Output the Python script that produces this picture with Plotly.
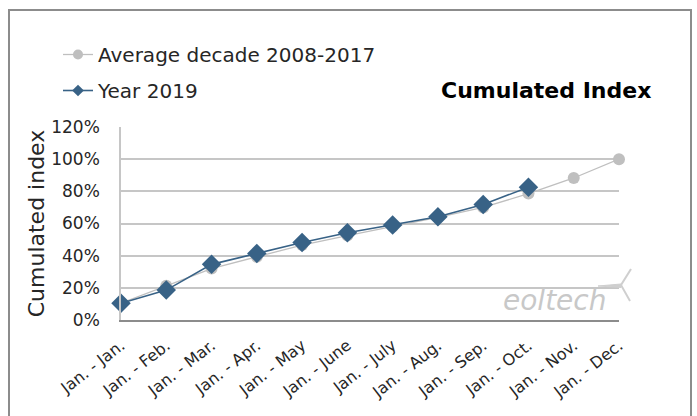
import plotly.graph_objects as go

categories = ["Jan. - Jan.", "Jan. - Feb.", "Jan. - Mar.", "Jan. - Apr.", "Jan. - May", "Jan. - June",
              "Jan. - July", "Jan. - Aug.", "Jan. - Sep.", "Jan. - Oct.", "Jan. - Nov.", "Jan. - Dec."]
avg_decade = [0.105, 0.213, 0.32, 0.393, 0.466, 0.525, 0.58, 0.638, 0.70, 0.786, 0.883, 1.0]
year_2019 = [0.104, 0.186, 0.346, 0.414, 0.482, 0.542, 0.59, 0.642, 0.718, 0.826]
y_ticks = [0, 0.2, 0.4, 0.6, 0.8, 1.0, 1.2]
y_tick_labels = ["0%", "20%", "40%", "60%", "80%", "100%", "120%"]

FONT = "DejaVu Sans"
BLUE = "#386286"
GREY = "#bfbfbf"
TEXT = "#262626"

# plot-area geometry (pixels) used for decoration placement
L, R, T, B = 121, 619, 127, 320
W, H = 697, 416


def px(x):
    return (x - L) / (R - L)


def py(y):
    return (B - y) / (B - T)


fig = go.Figure()
fig.add_trace(go.Scatter(
    x=categories, y=avg_decade, name="Average decade 2008-2017",
    mode="lines+markers", line=dict(color=GREY, width=1.3),
    marker=dict(symbol="circle", size=12, color=GREY),
    cliponaxis=False, showlegend=False))
fig.add_trace(go.Scatter(
    x=categories[:len(year_2019)], y=year_2019, name="Year 2019",
    mode="lines+markers", line=dict(color=BLUE, width=1.6),
    marker=dict(symbol="diamond", size=15, color=BLUE),
    cliponaxis=False, showlegend=False))
# legend entries (smaller symbols, as in the reference legend)
fig.add_trace(go.Scatter(
    x=[None], y=[None], name="Average decade 2008-2017",
    mode="lines+markers", line=dict(color=GREY, width=1.3),
    marker=dict(symbol="circle", size=10, color=GREY), legendgroup="a"))
fig.add_trace(go.Scatter(
    x=[None], y=[None], name="Year 2019",
    mode="lines+markers", line=dict(color=BLUE, width=1.6),
    marker=dict(symbol="diamond", size=9, color=BLUE), legendgroup="b"))

shapes = [
    # outer frame
    dict(type="rect", xref="paper", yref="paper",
         x0=px(9), x1=px(691), y0=py(440), y1=py(10),
         line=dict(color="#8c8c8c", width=2), fillcolor="rgba(0,0,0,0)", layer="below"),
    # eoltech turbine
    dict(type="path", xref="paper", yref="paper",
         path=f"M {px(598)},{py(286)} L {px(621)},{py(284)} L {px(621)},{py(287.5)} Z",
         line=dict(color="#cfcfcf", width=1), fillcolor="#cfcfcf"),
    dict(type="line", xref="paper", yref="paper",
         x0=px(621), y0=py(285), x1=px(631), y1=py(269),
         line=dict(color="#cfcfcf", width=2)),
    dict(type="line", xref="paper", yref="paper",
         x0=px(621), y0=py(285), x1=px(630), y1=py(301),
         line=dict(color="#cfcfcf", width=2)),
]

annotations = [
    dict(text="<b>Cumulated Index</b>", xref="paper", yref="paper",
         x=px(653), y=py(90), xanchor="right", yanchor="middle", showarrow=False,
         font=dict(family=FONT, size=22, color="#000000")),
    dict(text="<i>eoltech</i>", xref="paper", yref="paper",
         x=px(554), y=py(300), xanchor="center", yanchor="middle", showarrow=False,
         font=dict(family=FONT, size=28, color="#c8c8c8")),
]

fig.update_layout(
    width=W, height=H,
    margin=dict(l=L, r=W - R, t=T, b=H - B, pad=0, autoexpand=False),
    paper_bgcolor="white", plot_bgcolor="white",
    font=dict(family=FONT, color=TEXT),
    showlegend=True,
    legend=dict(x=px(58), y=py(35), xanchor="left", yanchor="top",
                traceorder="grouped", tracegroupgap=7,
                font=dict(family=FONT, size=20, color=TEXT),
                bgcolor="rgba(0,0,0,0)"),
    shapes=shapes, annotations=annotations,
    xaxis=dict(type="category", range=[0, len(categories) - 1], automargin=False,
               showgrid=False, showline=True, linecolor="#8c8c8c", linewidth=2,
               ticks="", tickangle=-38, ticklabelstandoff=8,
               tickfont=dict(family=FONT, size=16, color=TEXT)),
    yaxis=dict(range=[0, 1.2], tickvals=y_ticks, ticktext=y_tick_labels, automargin=False,
               showgrid=True, gridcolor="#c6c6c6", gridwidth=1.5,
               showline=True, linecolor="#c6c6c6", linewidth=1.5,
               zeroline=False, ticks="", ticklabelstandoff=16,
               tickfont=dict(family=FONT, size=17, color=TEXT),
               title=dict(text="Cumulated index", standoff=1,
                          font=dict(family=FONT, size=22, color=TEXT))),
)

fig.write_html("out.html", config={"displayModeBar": False},
               post_script="document.body.style.margin='0';document.body.style.overflow='hidden';")
